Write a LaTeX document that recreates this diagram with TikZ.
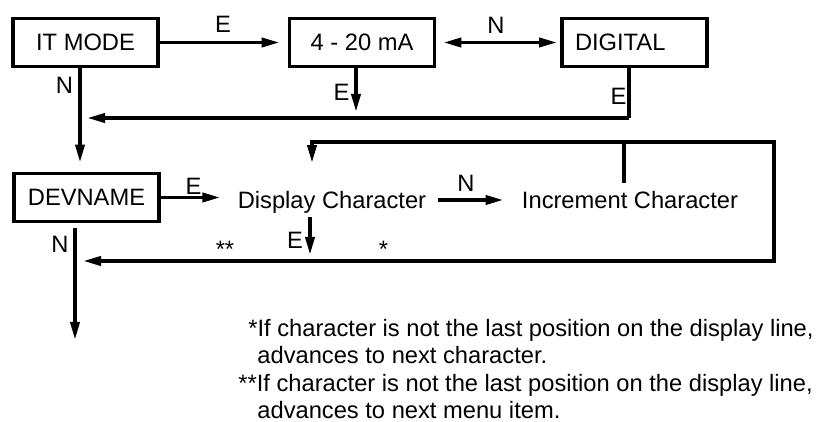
\documentclass[tikz,border=0pt]{standalone}
\usepackage{fontspec}
\setmainfont{Liberation Sans}
\usepackage{tikz}
\usetikzlibrary{arrows.meta, positioning}
\tikzset{
  menubox/.style={draw, line width=1.8pt, minimum width=72.5pt, minimum height=24pt,
    inner sep=0pt, text height=8.5pt, text depth=0pt},
  lbl/.style={inner sep=0pt, text height=8.5pt, text depth=0pt},
  plain/.style={line width=1.8pt},
  flow/.style={line width=1.8pt, -{Triangle[length=9pt,width=4.5pt]}},
  dflow/.style={line width=1.8pt, {Triangle[length=9pt,width=4.5pt]}-{Triangle[length=9pt,width=4.5pt]}},
}

\begin{document}
\begin{tikzpicture}[x=0.5pt, y=-0.5pt, font=\fontsize{11.85}{13.65}\selectfont]
  \useasboundingbox (0,0) rectangle (827,422);

  % menu boxes
  \node[menubox] (itmode) at (85.5,42.5) {IT MODE};
  \node[menubox] (ma) at (362,42.5) {4 - 20 mA};
  \node[menubox, text width=59.5pt, inner xsep=6.5pt, align=left] (digital) at (634.5,42.5) {DIGITAL};
  \node[menubox] (devname) at (86.5,197.5) {DEVNAME};
  \node[lbl] (disp) at (332,200) {Display Character};
  \node[lbl] (incr) at (630,200) {Increment Character};

  % points on the return lines
  \coordinate (itN) at ([xshift=-2.75pt]itmode.south);
  \coordinate (maE) at ([xshift=-3pt]ma.south);
  \coordinate (digE) at ([xshift=-2.75pt]digital.south);
  \coordinate (ret1) at (80,118);
  \coordinate (devN) at ([xshift=-5.75pt,yshift=-2.5pt]devname.south);
  \coordinate (exitN) at (75,340);
  \coordinate (incrT) at ([xshift=-3pt,yshift=4pt]incr.north);
  \coordinate (loopT) at (624,142);
  \coordinate (loopR) at (774,142);
  \coordinate (loopB) at (774,261);
  \coordinate (ret2) at (75,261);
  \coordinate (dispT) at ([xshift=-10pt,yshift=14pt]disp.north);
  \coordinate (dispE) at ([xshift=-11pt,yshift=-4.25pt]disp.south);

  % top row
  \draw[flow, shorten >=4pt] (itmode.east) -- (ma.west);
  \draw[dflow, shorten <=3.5pt, shorten >=1.5pt] (ma.east) -- (digital.west);
  \draw[flow, shorten >=3pt] (maE) -- (maE |- ret1);
  \draw[plain] (digE) -- (digE |- ret1);
  \draw[flow, shorten >=3.5pt] (digE |- ret1) -- (ret1);
  \draw[flow, shorten >=4.5pt] (itN) -- (itN |- devname.north);

  % second row
  \draw[flow, shorten >=8.5pt] (devname.east) -- (devname.east -| disp.west);
  \draw[flow, shorten <=5.5pt, shorten >=9pt] (disp.east) -- (incr.west);
  \draw[plain] (incrT) -- (loopT);
  \draw[flow] (loopT) -| (dispT);
  \draw[flow, shorten >=4pt] (loopT) -- (loopR) -- (loopB) -- (ret2);
  \draw[flow, shorten >=3pt] (dispE) -- (dispE |- loopB);
  \draw[flow] (devN) -- (exitN);

  % key labels
  \node[lbl] (lE1) at (223,24.5) {E};
  \node[lbl] (lN1) at (496,25) {N};
  \node[lbl] (lE2) at (341.5,92.5) {E};
  \node[lbl] (lE3) at (618.5,96.5) {E};
  \node[lbl] (lN2) at (64.5,85) {N};
  \node[lbl] (lE4) at (193.5,186) {E};
  \node[lbl] (lN3) at (466,183) {N};
  \node[lbl] (lE5) at (295,240.5) {E};
  \node[lbl] (lN4) at (60,244) {N};
  \node[lbl] (star2) at (225,249) {**};
  \node[lbl] (star1) at (383.5,249.5) {*};

  % notes
  \node[lbl, anchor=base west] (note1) at (248,337) {*If character is not the last position on the display line,};
  \node[lbl, anchor=base west] (note2) at (257,364) {advances to next character.};
  \node[lbl, anchor=base west] (note3) at (238,392) {**If character is not the last position on the display line,};
  \node[lbl, anchor=base west] (note4) at (257,419) {advances to next menu item.};
\end{tikzpicture}
\end{document}
